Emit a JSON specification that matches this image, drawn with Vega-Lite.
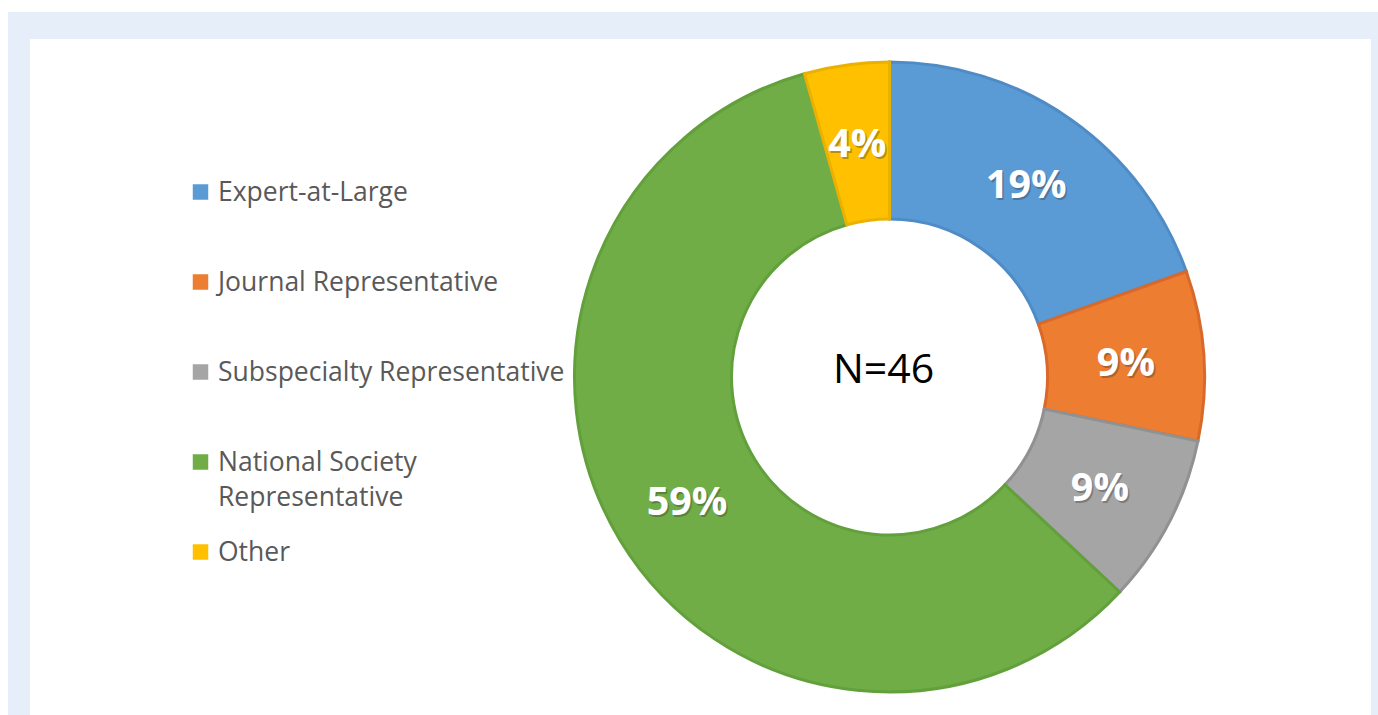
{
  "$schema": "https://vega.github.io/schema/vega-lite/v6.json",
  "background": "white",
  "padding": {"left": 8, "top": 12, "right": 0, "bottom": 0},
  "config": {"view": {"stroke": null}, "concat": {"spacing": 0}},
  "datasets": {
    "slices": [
      {"ord": 1, "category": "Expert-at-Large", "label": "Expert-at-Large", "count": 9, "pct": "19%"},
      {"ord": 2, "category": "Journal Representative", "label": "Journal Representative", "count": 4, "pct": "9%"},
      {"ord": 3, "category": "Subspecialty Representative", "label": "Subspecialty Representative", "count": 4, "pct": "9%"},
      {"ord": 4, "category": "National Society Representative", "label": "National Society\nRepresentative", "count": 27, "pct": "59%"},
      {"ord": 5, "category": "Other", "label": "Other", "count": 2, "pct": "4%"}
    ]
  },
  "spacing": 0,
  "bounds": "flush",
  "hconcat": [
    {
      "width": 22, "height": 703,
      "view": {"fill": "#e6eff9", "stroke": null},
      "data": {"values": []},
      "mark": "point"
    },
    {
      "spacing": 0,
      "bounds": "flush",
      "vconcat": [
        {
          "width": 1348, "height": 27,
          "view": {"fill": "#e6eff9", "stroke": null},
          "data": {"values": []},
          "mark": "point"
        },
        {
          "spacing": 0,
          "bounds": "flush",
          "hconcat": [
            {
              "width": 378, "height": 676,
              "view": {"stroke": null},
              "data": {"name": "slices"},
              "encoding": {
                "y": {
                  "field": "category", "type": "nominal",
                  "sort": ["Expert-at-Large", "Journal Representative", "Subspecialty Representative", "National Society Representative", "Other"],
                  "scale": {"type": "point", "range": [153, 513], "padding": 0},
                  "axis": null
                }
              },
              "layer": [
                {
                  "mark": {"type": "point", "shape": "square", "filled": true, "size": 240, "opacity": 1, "xOffset": -18.5},
                  "encoding": {
                    "color": {
                      "field": "category", "type": "nominal",
                      "scale": {
                        "domain": ["Expert-at-Large", "Journal Representative", "Subspecialty Representative", "National Society Representative", "Other"],
                        "range": ["#5b9bd5", "#ed7d31", "#a5a5a5", "#70ad47", "#ffc000"]
                      },
                      "legend": null
                    }
                  }
                },
                {
                  "mark": {"type": "text", "align": "left", "baseline": "alphabetic", "dx": -1, "dy": 9, "fontSize": 26.5, "font": "Open Sans", "fill": "#595959", "lineBreak": "\n", "lineHeight": 35},
                  "encoding": {"text": {"field": "label", "type": "nominal"}}
                }
              ]
            },
            {
              "width": 963, "height": 676,
              "view": {"stroke": null},
              "layer": [
                {
                  "data": {"name": "slices"},
                  "mark": {"type": "arc", "innerRadius": 158, "outerRadius": 315, "strokeWidth": 3},
                  "encoding": {
                    "theta": {"field": "count", "type": "quantitative", "stack": true},
                    "order": {"field": "ord", "type": "quantitative"},
                    "color": {
                      "field": "category", "type": "nominal",
                      "scale": {
                        "domain": ["Expert-at-Large", "Journal Representative", "Subspecialty Representative", "National Society Representative", "Other"],
                        "range": ["#5b9bd5", "#ed7d31", "#a5a5a5", "#70ad47", "#ffc000"]
                      },
                      "legend": null
                    },
                    "stroke": {
                      "field": "category", "type": "nominal",
                      "scale": {
                        "domain": ["Expert-at-Large", "Journal Representative", "Subspecialty Representative", "National Society Representative", "Other"],
                        "range": ["#4f8cc6", "#d9692a", "#919191", "#62a03c", "#eab100"]
                      },
                      "legend": null
                    }
                  }
                },
                {
                  "data": {"name": "slices"},
                  "mark": {"type": "text", "radius": 237, "font": "Open Sans", "fontWeight": "bold", "fontSize": 39.5, "fill": "#333333", "opacity": 0.35, "dx": 1.5, "dy": 5},
                  "encoding": {
                    "theta": {"field": "count", "type": "quantitative", "stack": true},
                    "order": {"field": "ord", "type": "quantitative"},
                    "text": {"field": "pct", "type": "nominal"}
                  }
                },
                {
                  "data": {"name": "slices"},
                  "mark": {"type": "text", "radius": 237, "font": "Open Sans", "fontWeight": "bold", "fontSize": 39.5, "fill": "white", "dy": 3},
                  "encoding": {
                    "theta": {"field": "count", "type": "quantitative", "stack": true},
                    "order": {"field": "ord", "type": "quantitative"},
                    "text": {"field": "pct", "type": "nominal"}
                  }
                },
                {
                  "data": {"values": [{"t": "N=46"}]},
                  "mark": {"type": "text", "font": "Open Sans", "fontSize": 41, "fill": "black", "dx": -6, "dy": -6},
                  "encoding": {"text": {"field": "t", "type": "nominal"}}
                }
              ]
            },
            {
              "width": 7, "height": 676,
              "view": {"fill": "#e6eff9", "stroke": null},
              "data": {"values": []},
              "mark": "point"
            }
          ]
        }
      ]
    }
  ]
}
